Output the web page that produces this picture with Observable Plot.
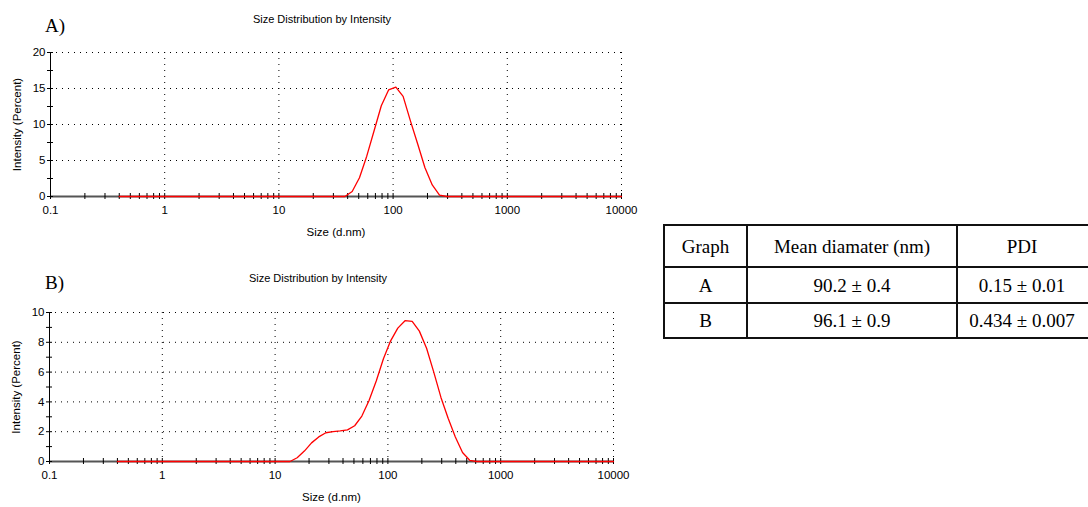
<!DOCTYPE html>
<html>
<head>
<meta charset="utf-8">
<script src="https://cdn.jsdelivr.net/npm/d3@7"></script>
<script src="https://cdn.jsdelivr.net/npm/@observablehq/plot@0.6"></script>
<style>
  html, body { margin: 0; padding: 0; background: #fff; }
  #wrap { position: relative; width: 1088px; height: 507px; overflow: hidden; background: #fff; }
  .panel { position: absolute; left: 0; }
  .tag { position: absolute; font-family: "Liberation Serif", "Times New Roman", serif; font-size: 19px; line-height: 1; transform: translateY(-50%); color: #000; }
  .title { position: absolute; font-family: "Liberation Sans", Arial, sans-serif; font-size: 11px; line-height: 1; transform: translate(-50%, -50%); white-space: nowrap; color: #000; }
  table.summary { position: absolute; left: 663px; top: 224px; border-collapse: collapse; table-layout: fixed; font-family: "Liberation Serif", "Times New Roman", serif; font-size: 19px; line-height: 1; color: #000; }
  table.summary td { border: 2px solid #111; text-align: center; padding: 0; white-space: nowrap; }
</style>
</head>
<body>
<div id="wrap"></div>
<script>
// Particle size distribution by intensity (DLS), two samples
const sizesA = [0.4, 37.84, 43.82, 50.75, 58.77, 68.06, 78.82, 91.28, 105.7, 122.4, 141.8, 164.2, 190.1, 220.2, 255.0, 295.3, 10000];
const intensityA = [0, 0, 0.7, 2.6, 5.6, 9.1, 12.6, 14.8, 15.2, 13.9, 10.5, 7.3, 4.0, 1.6, 0.2, 0, 0];

const sizesB = [0.4, 13.54, 15.69, 18.17, 21.04, 24.36, 28.21, 32.67, 37.84, 43.82, 50.75, 58.77, 68.06, 78.82, 91.28, 105.7, 122.4, 141.8, 164.2, 190.1, 220.2, 255.0, 295.3, 342.0, 396.1, 458.7, 531.2, 615.1, 10000];
const intensityB = [0, 0, 0.25, 0.7, 1.25, 1.65, 1.93, 2.0, 2.05, 2.12, 2.4, 3.05, 4.1, 5.4, 6.9, 8.1, 8.95, 9.45, 9.4, 8.75, 7.6, 6.0, 4.3, 2.9, 1.65, 0.6, 0.08, 0, 0];

// Axis ticks
const xMajor = [0.1, 1, 10, 100, 1000, 10000];
const yMajorA = [0, 5, 10, 15, 20];
const yMinorA = [2.5, 7.5, 12.5, 17.5];
const yMajorB = [0, 2, 4, 6, 8, 10];
const yMinorB = [1, 3, 5, 7, 9];

// Summary table
const tableHeader = ["Graph", "Mean diamater (nm)", "PDI"];
const tableGraphs = ["A", "B"];
const tableMeans = ["90.2 ± 0.4", "96.1 ± 0.9"];
const tablePDI = ["0.15 ± 0.01", "0.434 ± 0.007"];

// minor log ticks 2..9 within each decade
const xMinor = xMajor.slice(0, -1).flatMap(d => [2, 3, 4, 5, 6, 7, 8, 9].map(k => +(d * k).toPrecision(3)));
const xTicks = xMajor.concat(xMinor);

const wrap = document.getElementById("wrap");

function panel({sizes, values, yMax, yMajor, yMinor, top, margins, tag, tagTop, titleX, titleY}) {
  const rows = sizes.map((s, i) => ({size: s, intensity: values[i]}));
  const dots = {stroke: "#000", strokeOpacity: 1, strokeWidth: 1, strokeDasharray: "1,5"};
  const chart = Plot.plot({
    width: 640,
    height: 245,
    ...margins,
    style: {fontFamily: "Liberation Sans, Arial, sans-serif", fontSize: "11.5px", background: "transparent", color: "#000"},
    x: {type: "log", domain: [0.1, 10000]},
    y: {domain: [0, yMax]},
    marks: [
      Plot.gridX(xMajor.slice(1), dots),
      Plot.gridY(yMajor.slice(1), dots),
      Plot.axisX(xMajor, {tickSize: 0, tickPadding: 9, tickFormat: d => String(d),
        label: "Size (d.nm)", labelAnchor: "center", labelArrow: "none", labelOffset: 39}),
      Plot.axisY(yMajor, {tickSize: 0, tickPadding: 5,
        label: "Intensity (Percent)", labelAnchor: "center", labelArrow: "none", labelOffset: 38}),
      Plot.ruleY([0], {stroke: "#555", strokeWidth: 2}),
      Plot.ruleX([0.1], {stroke: "#000", strokeWidth: 1}),
      Plot.ruleX(xTicks, {y1: 0, y2: 0, insetTop: 3, insetBottom: 3, stroke: "#000"}),
      Plot.ruleY(yMajor.concat(yMinor), {x1: 0.1, x2: 0.1, insetLeft: 3, insetRight: 3, stroke: "#000"}),
      Plot.line(rows, {x: "size", y: "intensity", stroke: "#f00", strokeWidth: 1.3})
    ]
  });
  chart.classList.add("panel");
  chart.style.top = top + "px";
  wrap.appendChild(chart);

  const t = document.createElement("div");
  t.className = "tag";
  t.style.left = "45px";
  t.style.top = tagTop + "px";
  t.textContent = tag;
  wrap.appendChild(t);

  const h = document.createElement("div");
  h.className = "title";
  h.style.left = titleX + "px";
  h.style.top = titleY + "px";
  h.textContent = "Size Distribution by Intensity";
  wrap.appendChild(h);
}

panel({sizes: sizesA, values: intensityA, yMax: 20, yMajor: yMajorA, yMinor: yMinorA, top: 0,
  margins: {marginLeft: 50, marginRight: 19, marginTop: 52, marginBottom: 49},
  tag: "A)", tagTop: 25, titleX: 322, titleY: 19});

panel({sizes: sizesB, values: intensityB, yMax: 10, yMajor: yMajorB, yMinor: yMinorB, top: 262,
  margins: {marginLeft: 49, marginRight: 27, marginTop: 50, marginBottom: 46},
  tag: "B)", tagTop: 282, titleX: 318, titleY: 278});

// table; the last column runs past the right edge of the page
const table = document.createElement("table");
table.className = "summary";
const widths = [83, 210, 160];
const heights = [40, 34, 33];
table.style.width = d3.sum(widths) + "px";
const colgroup = document.createElement("colgroup");
widths.forEach(w => {
  const col = document.createElement("col");
  col.style.width = w + "px";
  colgroup.appendChild(col);
});
table.appendChild(colgroup);
const body = [tableHeader].concat(tableGraphs.map((g, i) => [g, tableMeans[i], tablePDI[i]]));
body.forEach((r, ri) => {
  const tr = document.createElement("tr");
  r.forEach((c, ci) => {
    const td = document.createElement("td");
    td.style.height = heights[ri] + "px";
    if (ci === 2) td.style.paddingRight = "30px";
    td.textContent = c;
    tr.appendChild(td);
  });
  table.appendChild(tr);
});
wrap.appendChild(table);
</script>
</body>
</html>
